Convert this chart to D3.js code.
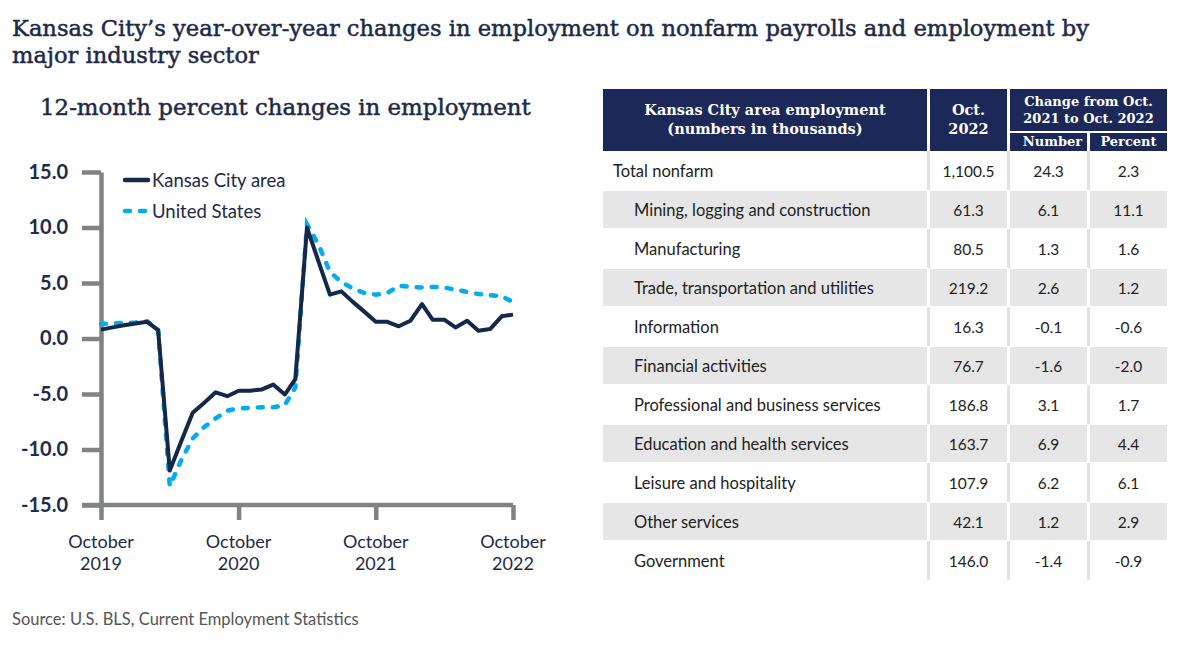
<!DOCTYPE html>
<html>
<head>
<meta charset="utf-8">
<script src="https://cdn.jsdelivr.net/npm/d3@7"></script>
<style>
  body { margin: 0; background: #fff; }
  text { font-family: Lato, "Open Sans", sans-serif; }
  .slab { font-family: "DejaVu Serif", serif; }
</style>
</head>
<body>
<div id="chart"></div>
<script>
// months shown on the line chart, Oct 2019 .. Oct 2022
var months = d3.timeMonth.range(new Date(2019, 9, 1), new Date(2022, 10, 1));

// 12-month percent changes
var kansasCity = [0.8, 1.0, 1.2, 1.35, 1.5, 0.75, -11.9, -9.3, -6.7, -5.8, -4.85, -5.2,
  -4.7, -4.7, -4.6, -4.15, -5.05, -3.65, 10.0, 7.0, 3.95, 4.25, 3.3, 2.4,
  1.5, 1.5, 1.1, 1.6, 3.1, 1.7, 1.7, 1.0, 1.6, 0.7, 0.85, 2.0, 2.15];
var unitedStates = [1.3, 1.35, 1.4, 1.45, 1.55, 0.75, -13.3, -11.0, -9.0, -8.0, -7.2, -6.5,
  -6.3, -6.25, -6.2, -6.2, -6.0, -4.4, 10.3, 8.5, 6.0, 5.1, 4.5, 4.1,
  3.95, 4.1, 4.75, 4.65, 4.6, 4.65, 4.6, 4.4, 4.2, 4.0, 3.9, 3.8, 3.3];

var yTicks = [-15, -10, -5, 0, 5, 10, 15];
var xTicks = [new Date(2019, 9, 1), new Date(2020, 9, 1), new Date(2021, 9, 1), new Date(2022, 9, 1)];

// table
var industries = ["Total nonfarm", "Mining, logging and construction", "Manufacturing",
  "Trade, transportation and utilities", "Information", "Financial activities",
  "Professional and business services", "Education and health services",
  "Leisure and hospitality", "Other services", "Government"];
var employment = [1100.5, 61.3, 80.5, 219.2, 16.3, 76.7, 186.8, 163.7, 107.9, 42.1, 146.0];
var changeNumber = [24.3, 6.1, 1.3, 2.6, -0.1, -1.6, 3.1, 6.9, 6.2, 1.2, -1.4];
var changePercent = [2.3, 11.1, 1.6, 1.2, -0.6, -2.0, 1.7, 4.4, 6.1, 2.9, -0.9];

var navy = "#14284b";
var cyan = "#00aeef";
var axisGray = "#808285";
var headerBlue = "#1c2857";
var ink = "#1d2a48";

var svg = d3.select("#chart").append("svg")
  .attr("width", 1189)
  .attr("height", 645);

svg.append("rect").attr("width", 1189).attr("height", 645).attr("fill", "#fff");

// titles (thin stroke to get the medium slab weight)
var title = svg.append("text").attr("class", "slab")
  .style("font-size", "22.6px").attr("fill", ink)
  .attr("stroke", ink).attr("stroke-width", 0.5);
title.append("tspan").attr("x", 12).attr("y", 36)
  .text("Kansas City\u2019s year-over-year changes in employment on nonfarm payrolls and employment by");
title.append("tspan").attr("x", 12).attr("y", 63).text("major industry sector");

svg.append("text").attr("class", "slab")
  .attr("x", 40).attr("y", 115)
  .style("font-size", "22.9px").attr("fill", ink)
  .attr("stroke", ink).attr("stroke-width", 0.5)
  .text("12-month percent changes in employment");

// line chart
var x = d3.scaleTime()
  .domain([months[0], months[months.length - 1]])
  .range([101, 513]);
var y = d3.scaleLinear().domain([-15, 15]).range([505, 172]);

var yAxis = svg.append("g")
  .attr("transform", "translate(101,0)")
  .call(d3.axisLeft(y).tickValues(yTicks).tickSize(19).tickSizeOuter(0).tickPadding(14)
    .tickFormat(d => d.toFixed(1)));

var xAxis = svg.append("g")
  .attr("transform", "translate(0,505)")
  .call(d3.axisBottom(x).tickValues(xTicks).tickSize(15).tickSizeOuter(0).tickFormat(""));

[yAxis, xAxis].forEach(function(g) {
  g.select(".domain").attr("stroke", axisGray).attr("stroke-width", 4.5);
  g.selectAll(".tick line").attr("stroke", axisGray).attr("stroke-width", 4.5);
});
// x axis extends left to meet the -15 tick
xAxis.select(".domain").attr("d", "M82,0H513");

yAxis.selectAll(".tick text")
  .style("font-size", "20px").style("font-weight", "bold")
  .attr("fill", ink);

xTicks.forEach(function(d) {
  var t = svg.append("text")
    .attr("text-anchor", "middle")
    .style("font-size", "18px").attr("fill", ink);
  t.append("tspan").attr("x", x(d)).attr("y", 548).text("October");
  t.append("tspan").attr("x", x(d)).attr("y", 570).text(d.getFullYear());
});

var line = d3.line()
  .x((d, i) => x(months[i]))
  .y(d => y(d));

svg.append("path").datum(unitedStates)
  .attr("d", line)
  .attr("fill", "none").attr("stroke", cyan).attr("stroke-width", 4.5)
  .attr("stroke-dasharray", "5,10").attr("stroke-linecap", "round");

svg.append("path").datum(kansasCity)
  .attr("d", line)
  .attr("fill", "none").attr("stroke", navy).attr("stroke-width", 4)
  .attr("stroke-linejoin", "round");

// legend
var legend = [
  { name: "Kansas City area", color: navy, dash: null, y: 180 },
  { name: "United States", color: cyan, dash: "5,10", y: 211 }
];
legend.forEach(function(l) {
  svg.append("line")
    .attr("x1", 125).attr("x2", 148).attr("y1", l.y).attr("y2", l.y)
    .attr("stroke", l.color).attr("stroke-width", 4.5)
    .attr("stroke-linecap", "round")
    .attr("stroke-dasharray", l.dash);
  svg.append("text")
    .attr("x", 152).attr("y", l.y + 6.5)
    .style("font-size", "18.5px").attr("fill", ink)
    .text(l.name);
});

// table
var cols = [
  { x0: 603, x1: 927 },
  { x0: 930, x1: 1007 },
  { x0: 1010, x1: 1087 },
  { x0: 1090, x1: 1167 }
];
var rowY = d3.scaleBand().domain(d3.range(industries.length)).range([151, 580]);

// header cells
svg.append("rect").attr("x", cols[0].x0).attr("y", 89).attr("width", cols[0].x1 - cols[0].x0).attr("height", 62).attr("fill", headerBlue);
svg.append("rect").attr("x", cols[1].x0).attr("y", 89).attr("width", cols[1].x1 - cols[1].x0).attr("height", 62).attr("fill", headerBlue);
svg.append("rect").attr("x", cols[2].x0).attr("y", 89).attr("width", cols[3].x1 - cols[2].x0).attr("height", 42).attr("fill", headerBlue);
svg.append("rect").attr("x", cols[2].x0).attr("y", 133).attr("width", cols[2].x1 - cols[2].x0).attr("height", 18).attr("fill", headerBlue);
svg.append("rect").attr("x", cols[3].x0).attr("y", 133).attr("width", cols[3].x1 - cols[3].x0).attr("height", 18).attr("fill", headerBlue);

function headerText(cx, yy, size, str) {
  svg.append("text").attr("class", "slab")
    .attr("x", cx).attr("y", yy)
    .attr("text-anchor", "middle")
    .style("font-size", size).style("font-weight", "bold")
    .attr("fill", "#fff")
    .text(str);
}
var mid = c => (c.x0 + c.x1) / 2;
headerText(mid(cols[0]), 115, "14.5px", "Kansas City area employment");
headerText(mid(cols[0]), 134, "14.5px", "(numbers in thousands)");
headerText(mid(cols[1]), 115, "14.5px", "Oct.");
headerText(mid(cols[1]), 134, "14.5px", "2022");
headerText((cols[2].x0 + cols[3].x1) / 2, 106, "13px", "Change from Oct.");
headerText((cols[2].x0 + cols[3].x1) / 2, 123, "13px", "2021 to Oct. 2022");
headerText(mid(cols[2]) + 4, 146, "13px", "Number");
headerText(mid(cols[3]), 146, "13px", "Percent");

// body rows
industries.forEach(function(name, i) {
  var top = rowY(i), h = rowY.bandwidth();
  if (i % 2 === 1) {
    cols.forEach(function(c) {
      svg.append("rect")
        .attr("x", c.x0).attr("y", top + 1)
        .attr("width", c.x1 - c.x0).attr("height", h - 2)
        .attr("fill", "#e6e6e6");
    });
  } else {
    cols.slice(1).forEach(function(c) {
      svg.append("rect")
        .attr("x", c.x0 - 3).attr("y", top)
        .attr("width", 3).attr("height", h)
        .attr("fill", "#e2e2e2");
    });
  }
  var cy = top + h / 2 + 6;
  svg.append("text")
    .attr("x", i === 0 ? 613 : 634).attr("y", cy)
    .style("font-size", "16.5px").attr("fill", "#222")
    .text(name);
  var vals = [d3.format(",.1f")(employment[i]), changeNumber[i].toFixed(1), changePercent[i].toFixed(1)];
  vals.forEach(function(v, j) {
    svg.append("text")
      .attr("x", mid(cols[j + 1])).attr("y", cy)
      .attr("text-anchor", "middle")
      .style("font-size", "15.5px").attr("fill", "#222")
      .text(v);
  });
});

// source
svg.append("text")
  .attr("x", 12).attr("y", 625)
  .style("font-size", "16.5px").attr("fill", "#555")
  .text("Source: U.S. BLS, Current Employment Statistics");
</script>
</body>
</html>
